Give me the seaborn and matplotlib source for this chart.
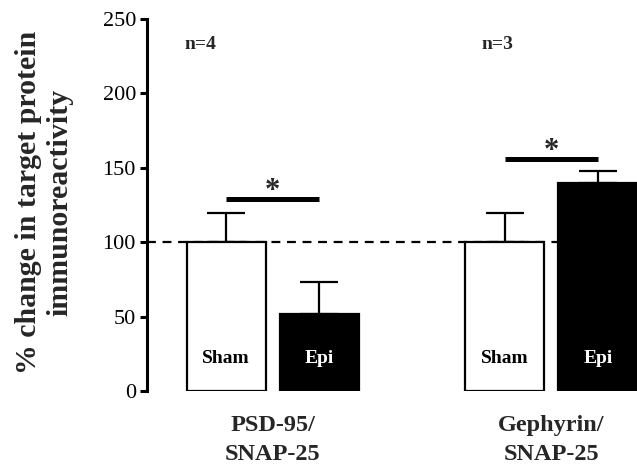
import matplotlib
matplotlib.use("Agg")
import matplotlib.pyplot as plt
import seaborn as sns
import pandas as pd

# Data
conditions = ["Sham", "Epi", "Sham", "Epi"]
positions = [0, 1, 3, 4]
means = [100, 52, 100, 140]
sem_up = [19.5, 21, 19.5, 7.5]
groups = ["PSD-95/\nSNAP-25", "Gephyrin/\nSNAP-25"]
group_centers = [0.5, 3.5]
n_labels = ["n=4", "n=3"]
sig_pairs = [(0, 1), (3, 4)]
sig_heights = [129, 156]
y_ticks = [0, 50, 100, 150, 200, 250]

sns.set_style("ticks")
plt.rcParams["font.family"] = ["Liberation Serif", "DejaVu Serif"]

fig = plt.figure(figsize=(6.37, 4.68), dpi=100)
ax = fig.add_axes([0.2308, 0.1645, 0.7692, 0.795])

df = pd.DataFrame({"pos": positions, "value": means, "cond": conditions})

# Reference line at 100 %
ax.axhline(100, color="black", lw=1.6, ls=(0, (4, 3)), zorder=0)

sns.barplot(data=df, x="pos", y="value", hue="cond",
            palette={"Sham": "white", "Epi": "black"},
            native_scale=True, dodge=False, width=0.85,
            edgecolor="black", linewidth=1.6, errorbar=None,
            legend=False, ax=ax, zorder=2)

# one-sided (upper) error bars
ax.errorbar(positions, means, yerr=[[0] * 4, sem_up], fmt="none",
            ecolor="black", elinewidth=1.6, capsize=14, capthick=1.6,
            zorder=1)

# bar labels
for p, v, c in zip(positions, means, conditions):
    ax.text(p, 22, c, ha="center", va="center", fontsize=14,
            fontweight="bold", color="white" if c == "Epi" else "black",
            zorder=3)

# significance bars
for (a, b), h in zip(sig_pairs, sig_heights):
    ax.plot([a, b], [h, h], color="black", lw=3.6, solid_capstyle="butt")
    ax.text((a + b) / 2, h, "*", ha="center", va="baseline",
            fontsize=22, fontweight="bold")

# group sample sizes
for gc, nl in zip([-0.28, 2.92], n_labels):
    ax.text(gc, 233, nl, ha="center", va="center", fontsize=14,
            fontweight="bold")

ax.set_xlim(-0.85, 4.42)
ax.set_ylim(0, 250)
ax.set_yticks(y_ticks)
ax.set_xticks(group_centers)
ax.set_xticklabels(groups, fontsize=17.5, fontweight="bold", linespacing=1.5)
ax.tick_params(axis="x", length=0, pad=17)
ax.tick_params(axis="y", length=5, width=2.2, labelsize=16, pad=3,
               color="black", labelcolor="black")
ax.set_xlabel("")
ax.set_ylabel("")

fig.text(44 / 637, 1 - 202 / 468,
         "% change in target protein\nimmunoreactivity",
         rotation=90, rotation_mode="anchor", ha="center", va="center",
         fontsize=21.5, fontweight="bold", linespacing=1.2)

for s in ["top", "right", "bottom"]:
    ax.spines[s].set_visible(False)
ax.spines["left"].set_linewidth(2.2)
ax.spines["left"].set_color("black")

fig.savefig("out.png", dpi=100)
